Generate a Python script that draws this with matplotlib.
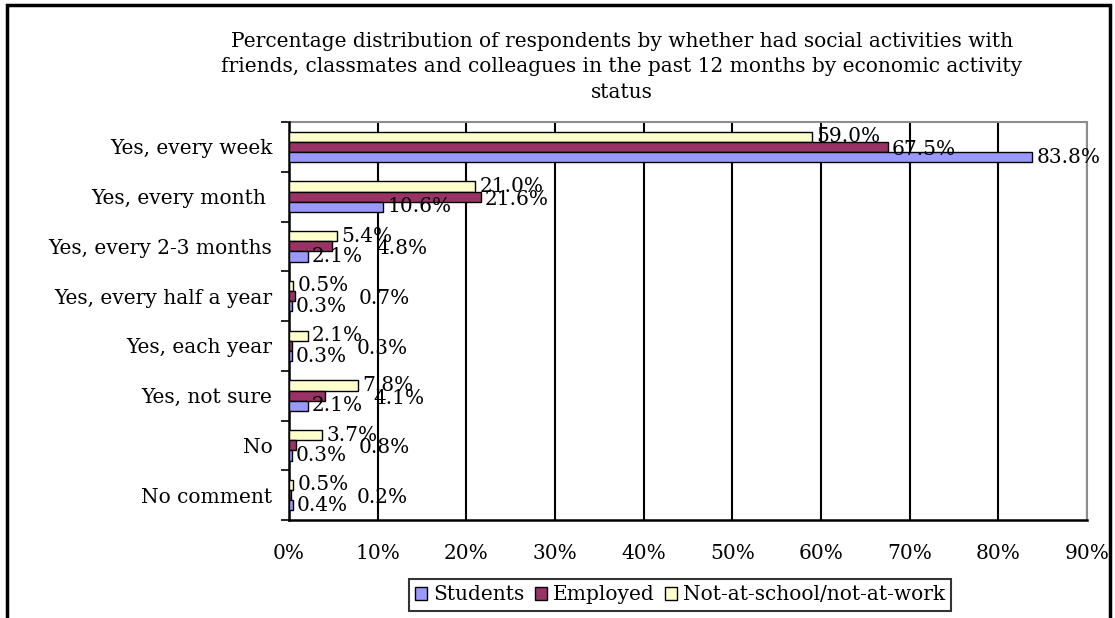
import numpy as np
import matplotlib
matplotlib.use("Agg")
import matplotlib.pyplot as plt
from matplotlib.patches import Rectangle

plt.rcParams['font.family'] = ['DejaVu Serif']

# survey answers, top to bottom
categories = [
    "Yes, every week",
    "Yes, every month ",
    "Yes, every 2-3 months",
    "Yes, every half a year",
    "Yes, each year",
    "Yes, not sure",
    "No",
    "No comment",
]

# percentages by economic activity status
students = [83.8, 10.6, 2.1, 0.3, 0.3, 2.1, 0.3, 0.4]
employed = [67.5, 21.6, 4.8, 0.7, 0.3, 4.1, 0.8, 0.2]
not_at_school_work = [59.0, 21.0, 5.4, 0.5, 2.1, 7.8, 3.7, 0.5]

series_names = ["Students", "Employed", "Not-at-school/not-at-work"]
xticks = [0, 10, 20, 30, 40, 50, 60, 70, 80, 90]

title = ("Percentage distribution of respondents by whether had social activities with\n"
         "friends, classmates and colleagues in the past 12 months by economic activity\n"
         "status")

W, H = 1115, 618
fig = plt.figure(figsize=(W / 100, H / 100), dpi=100)
ax = fig.add_axes([289 / W, 1 - 520 / H, (1087 - 289) / W, (520 - 122) / H])

y = np.arange(len(categories))
h = 0.205
fs = 14.5

colors = {"Students": "#9999FF", "Employed": "#993366", "Not-at-school/not-at-work": "#FFFFCC"}

b_nas = ax.barh(y - h, not_at_school_work, height=h, color=colors["Not-at-school/not-at-work"],
                edgecolor="black", linewidth=1.0, label=series_names[2], zorder=3)
b_emp = ax.barh(y, employed, height=h, color=colors["Employed"],
                edgecolor="black", linewidth=1.0, label=series_names[1], zorder=3)
b_stu = ax.barh(y + h, students, height=h, color=colors["Students"],
                edgecolor="black", linewidth=1.0, label=series_names[0], zorder=3)

ax.set_xlim(0, 90)
ax.set_ylim(len(categories) - 0.5, -0.5)
ax.set_xticks(xticks)
ax.set_xticklabels([f"{t}%" for t in xticks], fontsize=fs)
ax.set_yticks(y)
ax.set_yticklabels(categories, fontsize=fs)
ax.tick_params(axis='y', length=0, pad=12)
ax.tick_params(axis='x', length=0, pad=17)
# boundary ticks between categories on the value axis
ax.set_yticks(np.arange(len(categories) + 1) - 0.5, minor=True)
ax.tick_params(axis='y', which='minor', length=6, width=1.2)
ax.grid(axis='x', color='black', linewidth=1.5, zorder=1)
for side in ['left', 'bottom']:
    ax.spines[side].set_linewidth(1.8)
    ax.spines[side].set_color('black')
for side in ['top', 'right']:
    ax.spines[side].set_linewidth(1.5)
    ax.spines[side].set_color('#8c8c8c')
    ax.spines[side].set_zorder(2)

# data labels
for yi, v in zip(y, not_at_school_work):
    ax.text(v + 0.5, yi - h, f"{v:.1f}%", va='center', ha='left', fontsize=fs, zorder=4)
for yi, v in zip(y, employed):
    ax.text(max(v + 0.5, 7.5 + 0.5 * v), yi + 0.05, f"{v:.1f}%", va='center', ha='left',
            fontsize=fs, zorder=4)
for yi, v in zip(y, students):
    ax.text(v + 0.5, yi + h, f"{v:.1f}%", va='center', ha='left', fontsize=fs, zorder=4)

fig.text(622 / W, 1 - 67 / H, title, ha='center', va='center', fontsize=fs,
         linespacing=1.45)

leg = fig.legend(handles=[b_stu, b_emp, b_nas], labels=series_names, ncol=3,
                 loc='center', bbox_to_anchor=(680 / W, 1 - 595 / H), fontsize=fs,
                 frameon=True, fancybox=False, handlelength=0.6, handleheight=0.6,
                 handletextpad=0.3, columnspacing=0.5, borderpad=0.3, borderaxespad=0)
leg.get_frame().set_edgecolor('black')
leg.get_frame().set_linewidth(1.5)

# outer chart border
fig.add_artist(Rectangle((7 / W, -0.05), (1110 - 7) / W, 1.05 - 5 / H,
                         transform=fig.transFigure, fill=False, edgecolor='black',
                         linewidth=2.5))

fig.savefig("out.png", dpi=100)
